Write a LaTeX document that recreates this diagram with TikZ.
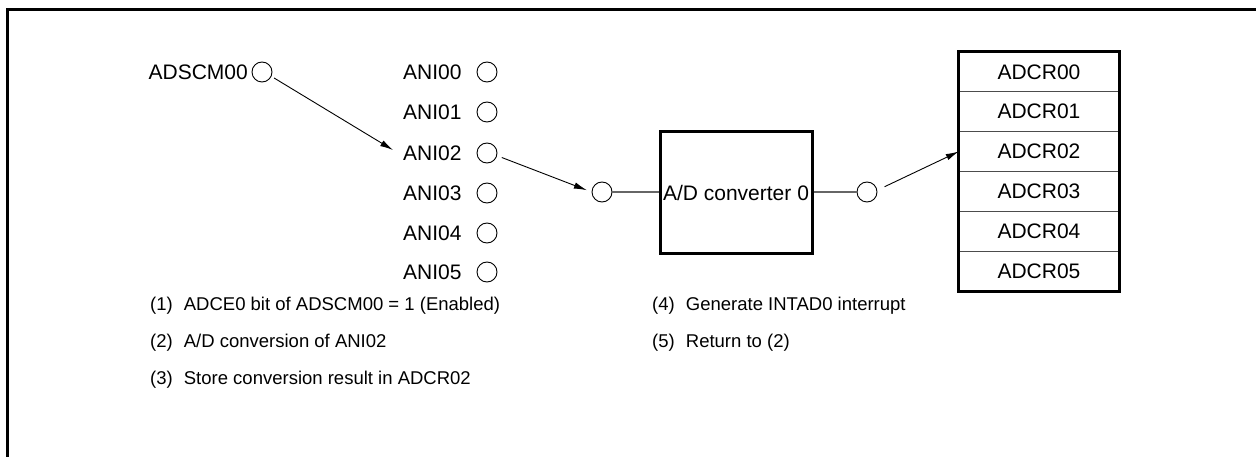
\documentclass[tikz,border=0pt]{standalone}
\usepackage{fontspec}
\setmainfont{Liberation Sans}
\usetikzlibrary{arrows.meta}
\begin{document}
\begin{tikzpicture}[x=1pt,y=-1pt,
  every node/.style={font=\fontsize{21}{25}\selectfont},
  lbl/.style={inner sep=0pt},
  pin/.style={circle,draw,line width=0.9pt,minimum size=20pt,inner sep=0pt},
  arr/.style={line width=0.9pt,-{Latex[length=13pt,width=6.5pt]}},
  wire/.style={line width=1.3pt,draw=black!60},
  cell/.style={minimum width=160pt,minimum height=39.8pt,inner sep=0pt},
  txt/.style={inner sep=0pt,anchor=west,font=\fontsize{18.5}{22}\selectfont}]
\useasboundingbox (0,0) rectangle (1256,457);
% frame
\draw[line width=3pt] (7,470) -- (7,10) -- (1270,10);
% ADSCM00
\node[lbl,anchor=east] (adscm) at (248,72) {ADSCM00};
\node[pin] (c0s) at (262,72) {};
% ANI inputs
\foreach \i/\y in {0/72,1/112,2/153,3/193,4/233,5/272}{
  \node[lbl,anchor=west] (ani\i) at (403,\y) {ANI0\i};
  \node[pin] (c\i) at (487,\y) {};
}
\coordinate (a1e) at (393,150);
\draw[arr,shorten <=3pt] (c0s.-25) -- (a1e);
% converter
\node[pin] (m1) at (602,192) {};
\node[draw,line width=3pt,minimum width=152pt,minimum height=122pt,inner sep=0pt] (adc) at (736,193) {A/D converter 0};
\node[pin] (m2) at (867,192) {};
\draw[arr,shorten <=5pt,shorten >=5pt] (c2.-15) -- (m1.west);
\draw[wire] (m1.east) -- (m1.east -| adc.west);
\draw[wire] (m2.west -| adc.east) -- (m2.west);
% result registers
\foreach \i in {0,...,5}{
  \node[cell] (r\i) at (1039,{52+39.8*\i+19.9}) {ADCR0\i};
}
\foreach \i in {0,...,4}{
  \draw[line width=1pt,draw=black!70] (r\i.south west) -- (r\i.south east);
}
\draw[line width=3pt] (r0.north west) rectangle (r5.south east);
\draw[arr,shorten <=8pt] (m2.10) -- (r2.west);
% notes
\node[txt] (n1) at (150,306) {(1)\hspace{0.6em}ADCE0 bit of ADSCM00 = 1 (Enabled)};
\node[txt] (n2) at (150,343) {(2)\hspace{0.6em}A/D conversion of ANI02};
\node[txt] (n3) at (150,380) {(3)\hspace{0.6em}Store conversion result in ADCR02};
\node[txt] (n4) at (652,306) {(4)\hspace{0.6em}Generate INTAD0 interrupt};
\node[txt] (n5) at (652,343) {(5)\hspace{0.6em}Return to (2)};
\end{tikzpicture}
\end{document}
